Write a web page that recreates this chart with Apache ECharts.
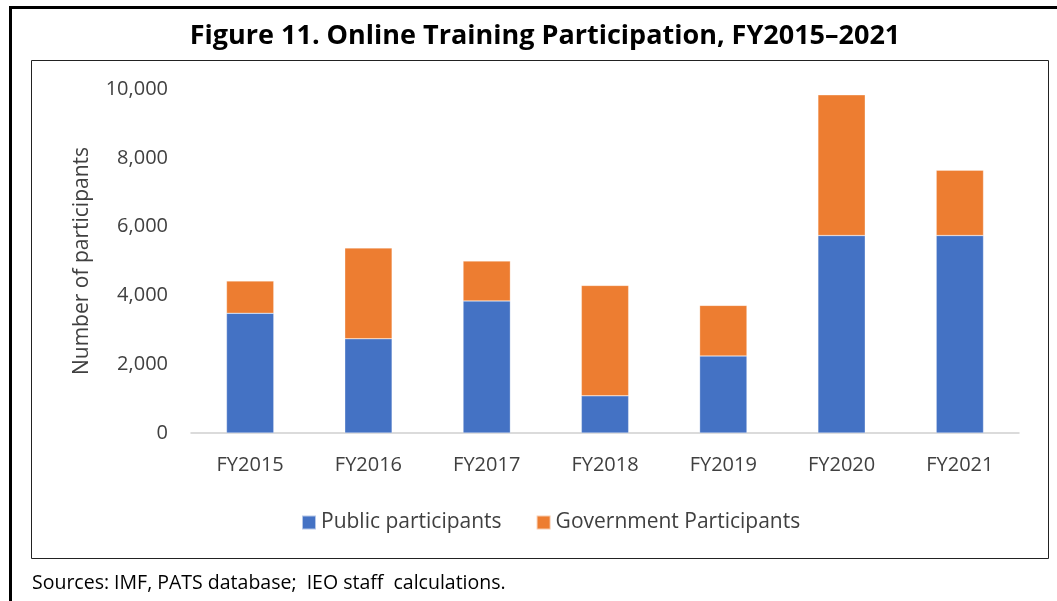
<!DOCTYPE html>
<html style="height: 100%">
<head>
<meta charset="utf-8">
<script src="https://cdn.jsdelivr.net/npm/echarts@6/dist/echarts.min.js"></script>
</head>
<body style="height: 100%; margin: 0; width: 100%; background: #fff;">
<div id="container" style="width: 1057px; height: 601px;"></div>
<script type="text/javascript">
var years = ['FY2015', 'FY2016', 'FY2017', 'FY2018', 'FY2019', 'FY2020', 'FY2021'];
var publicParticipants = [3480, 2740, 3840, 1080, 2240, 5740, 5740];
var governmentParticipants = [940, 2640, 1160, 3210, 1470, 4090, 1900];
var yTicks = [0, 2000, 4000, 6000, 8000, 10000];

var font = '"Open Sans", "Noto Sans", sans-serif';
var txt = '#404040';

var myChart = echarts.init(document.getElementById('container'));

var option = {
    backgroundColor: '#fff',
    animation: false,
    textStyle: {fontFamily: font},
    title: {
        text: 'Figure 11. Online Training Participation, FY2015\u20132021',
        left: 540,
        top: 18,
        textAlign: 'center',
        textStyle: {fontFamily: font, fontSize: 27, fontWeight: 'bold', color: '#000'}
    },
    graphic: [
        // outer frame (left + top)
        {type: 'rect', shape: {x: 9, y: 6, width: 3, height: 600}, style: {fill: '#000'}, silent: true},
        {type: 'rect', shape: {x: 9, y: 6, width: 1048, height: 3}, style: {fill: '#000'}, silent: true},
        // inner chart box
        {type: 'rect', shape: {x: 31.5, y: 60.5, width: 1017, height: 498}, style: {fill: 'none', stroke: '#222', lineWidth: 1}, silent: true},
        {
            type: 'text', left: 32, top: 573,
            style: {text: 'Sources: IMF, PATS database;  IEO staff  calculations.', fill: '#000', font: '19.5px ' + font}
        }
    ],
    legend: {
        left: 296,
        top: 507,
        itemWidth: 14,
        itemHeight: 14,
        itemGap: 34,
        icon: 'rect',
        textStyle: {fontFamily: font, fontSize: 21, color: txt},
        data: ['Public participants', 'Government Participants']
    },
    grid: {left: 191, right: 38, top: 89, bottom: 168},
    xAxis: {
        type: 'category',
        data: years,
        axisLine: {lineStyle: {color: '#d0d0d0', width: 1.5}},
        axisTick: {show: false},
        axisLabel: {color: txt, fontSize: 20, margin: 22, fontFamily: font}
    },
    yAxis: {
        type: 'value',
        min: yTicks[0],
        max: yTicks[yTicks.length - 1],
        interval: 2000,
        name: 'Number of participants',
        nameLocation: 'middle',
        nameGap: 98,
        nameTextStyle: {color: txt, fontSize: 21, fontFamily: font},
        splitLine: {show: false},
        axisLine: {show: false},
        axisTick: {show: false},
        axisLabel: {
            color: txt, fontSize: 20, margin: 23, fontFamily: font,
            formatter: function (v) { return v.toLocaleString('en-US'); }
        }
    },
    series: [
        {
            name: 'Public participants',
            type: 'bar',
            stack: 'total',
            barCategoryGap: '60%',
            itemStyle: {color: '#4472C4', borderColor: 'rgba(255,255,255,0.6)', borderWidth: 0.5},
            data: publicParticipants
        },
        {
            name: 'Government Participants',
            type: 'bar',
            stack: 'total',
            barCategoryGap: '60%',
            itemStyle: {color: '#ED7D31', borderColor: 'rgba(255,255,255,0.6)', borderWidth: 0.5},
            data: governmentParticipants
        }
    ]
};

myChart.setOption(option, true);
</script>
</body>
</html>
